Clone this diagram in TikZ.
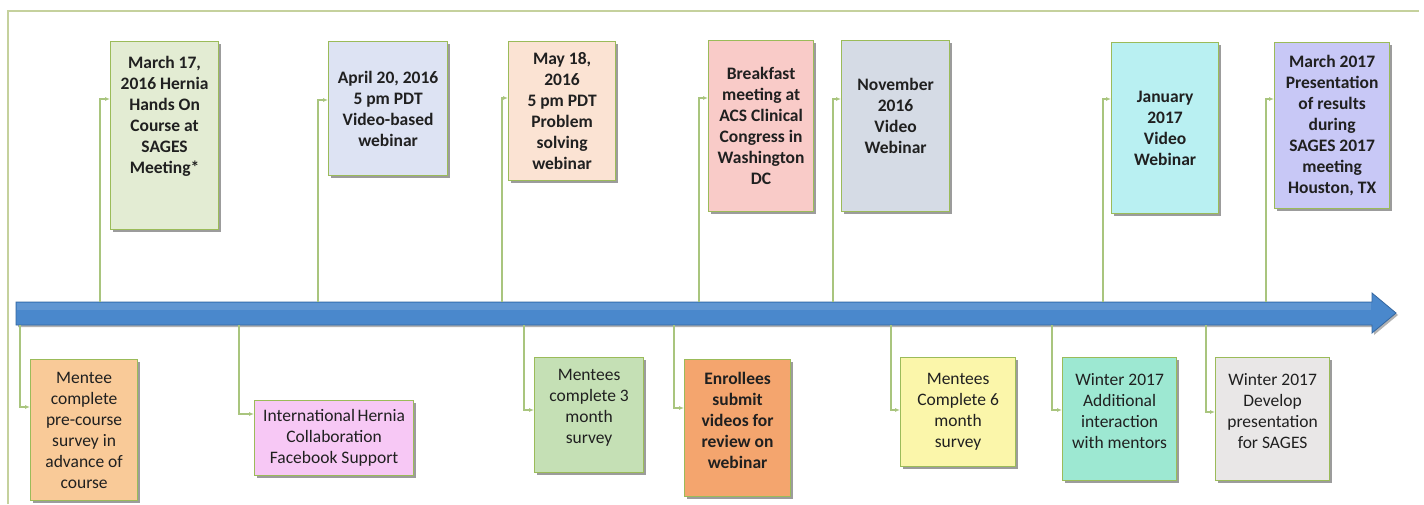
\documentclass[tikz,border=0pt]{standalone}
\usepackage{fontspec}
\setmainfont{Carlito}
\usetikzlibrary{arrows.meta,shadows}
\definecolor{frameC}{HTML}{C5D19D}
\definecolor{boxB}{HTML}{9BBB59}
\definecolor{leadC}{HTML}{A9C57E}
\definecolor{arrF}{HTML}{4A88CC}
\definecolor{arrD}{HTML}{3567A0}
\definecolor{txt}{HTML}{202020}
\definecolor{cT1}{HTML}{E3ECD3}
\definecolor{cT2}{HTML}{DDE3F3}
\definecolor{cT3}{HTML}{FBE3D3}
\definecolor{cT4}{HTML}{F9CBC8}
\definecolor{cT5}{HTML}{D5DBE5}
\definecolor{cT6}{HTML}{B9F0F2}
\definecolor{cT7}{HTML}{C8C8F6}
\definecolor{cB1}{HTML}{F9CA98}
\definecolor{cB2}{HTML}{F7C8F5}
\definecolor{cB3}{HTML}{C5E0B5}
\definecolor{cB4}{HTML}{F4A56E}
\definecolor{cB5}{HTML}{FBF6AA}
\definecolor{cB6}{HTML}{9DE8D2}
\definecolor{cB7}{HTML}{E9E7E7}
\begin{document}
\begin{tikzpicture}[x=1pt,y=-1pt,
  evt/.style={draw=boxB, line width=1.2pt, align=center, anchor=north west,
    inner sep=1pt, text=txt,
    drop shadow={shadow xshift=2pt, shadow yshift=-2pt, fill=black!70, opacity=0.55}},
  topbox/.style={evt, font=\fontsize{17.5}{21}\selectfont\bfseries},
  botbox/.style={evt, font=\fontsize{17.5}{21}\selectfont},
  leader/.style={draw=leadC, line width=1.1pt, -{Latex[length=5pt,width=4pt]}}]
\useasboundingbox (0,0) rectangle (1424,504);
\fill[white] (0,0) rectangle (1424,504);
% frame
\draw[frameC, line width=1.3pt] (8,504) -- (8,11) -- (1419,11);
% main arrow
\fill[black!60, opacity=0.5] (18,304) -- (1374,304) -- (1374,295) -- (1398,315) -- (1374,335) -- (1374,327) -- (18,327) -- cycle;
\draw[draw=arrD, fill=arrF, line width=0.8pt] (16,302) -- (1372,302) -- (1372,293) -- (1396,313) -- (1372,333) -- (1372,325) -- (16,325) -- cycle;
\fill[white, opacity=0.12] (17,303) rectangle (1371,310);
% coordinates on the arrow
\coordinate (a1) at (100,302);
\coordinate (a2) at (318,302);
\coordinate (a3) at (502,302);
\coordinate (a4) at (699,302);
\coordinate (a5) at (833,302);
\coordinate (a6) at (1103,302);
\coordinate (a7) at (1266,302);
\coordinate (c1) at (20,325);
\coordinate (c2) at (239,325);
\coordinate (c3) at (524,325);
\coordinate (c4) at (674,325);
\coordinate (c5) at (891,325);
\coordinate (c6) at (1052,325);
\coordinate (c7) at (1206,325);
% top boxes
\node[topbox, fill=cT1, minimum width=108pt, minimum height=188pt] (t1) at (110,41)
  {March 17,\\2016 Hernia\\Hands On\\Course at\\SAGES\\Meeting*\\~\\~};
\node[topbox, fill=cT2, minimum width=119pt, minimum height=134pt] (t2) at (328,41)
  {April 20, 2016\\5 pm PDT\\Video-based\\webinar};
\node[topbox, fill=cT3, minimum width=107pt, minimum height=139pt] (t3) at (508,41)
  {May 18,\\2016\\5 pm PDT\\Problem\\solving\\webinar};
\node[topbox, fill=cT4, minimum width=105pt, minimum height=171pt] (t4) at (708,40)
  {Breakfast\\meeting at\\ACS Clinical\\Congress in\\Washington\\DC};
\node[topbox, fill=cT5, minimum width=108pt, minimum height=171pt] (t5) at (841,40)
  {November\\2016\\Video\\Webinar\\~};
\node[topbox, fill=cT6, minimum width=107pt, minimum height=171pt] (t6) at (1111,42)
  {January\\2017\\Video\\Webinar};
\node[topbox, fill=cT7, minimum width=115pt, minimum height=166pt] (t7) at (1274,42)
  {March 2017\\Presentation\\of results\\during\\SAGES 2017\\meeting\\Houston, TX};
% bottom boxes
\node[botbox, fill=cB1, minimum width=107pt, minimum height=141pt] (b1) at (30,359)
  {Mentee\\complete\\pre-course\\survey in\\advance of\\course};
\node[botbox, fill=cB2, minimum width=159pt, minimum height=75pt] (b2) at (254,400)
  {International\hspace{2.5pt}Hernia\\Collaboration\\Facebook Support};
\node[botbox, fill=cB3, minimum width=109pt, minimum height=115pt] (b3) at (534,357)
  {Mentees\\complete 3\\month\\survey\\[-4pt]~};
\node[botbox, fill=cB4, minimum width=106pt, minimum height=137pt, font=\fontsize{17.5}{21}\selectfont\bfseries] (b4) at (684,359)
  {Enrollees\\submit\\videos for\\review on\\webinar\\[-6pt]~};
\node[botbox, fill=cB5, minimum width=115pt, minimum height=109pt] (b5) at (900,357)
  {Mentees\\Complete 6\\month\\survey};
\node[botbox, fill=cB6, minimum width=114pt, minimum height=123pt] (b6) at (1062,357)
  {Winter 2017\\Additional\\interaction\\with mentors\\[-4pt]~};
\node[botbox, fill=cB7, minimum width=114pt, minimum height=123pt] (b7) at (1215,357)
  {Winter 2017\\Develop\\presentation\\for SAGES\\[-4pt]~};
% leaders
\draw[leader] (a1) |- ([yshift=-58pt]t1.north west);
\draw[leader] (a2) |- ([yshift=-59pt]t2.north west);
\draw[leader] (a3) |- ([yshift=-57pt]t3.north west);
\draw[leader] (a4) |- ([yshift=-58pt]t4.north west);
\draw[leader] (a5) |- ([yshift=-59pt]t5.north west);
\draw[leader] (a6) |- ([yshift=-57pt]t6.north west);
\draw[leader] (a7) |- ([yshift=-57pt]t7.north west);
\draw[leader] (c1) |- ([yshift=-48pt]b1.north west);
\draw[leader] (c2) |- ([yshift=-14pt]b2.north west);
\draw[leader] (c3) |- ([yshift=-53pt]b3.north west);
\draw[leader] (c4) |- ([yshift=-49pt]b4.north west);
\draw[leader] (c5) |- ([yshift=-53pt]b5.north west);
\draw[leader] (c6) |- ([yshift=-53pt]b6.north west);
\draw[leader] (c7) |- ([yshift=-55pt]b7.north west);
\end{tikzpicture}
\end{document}
